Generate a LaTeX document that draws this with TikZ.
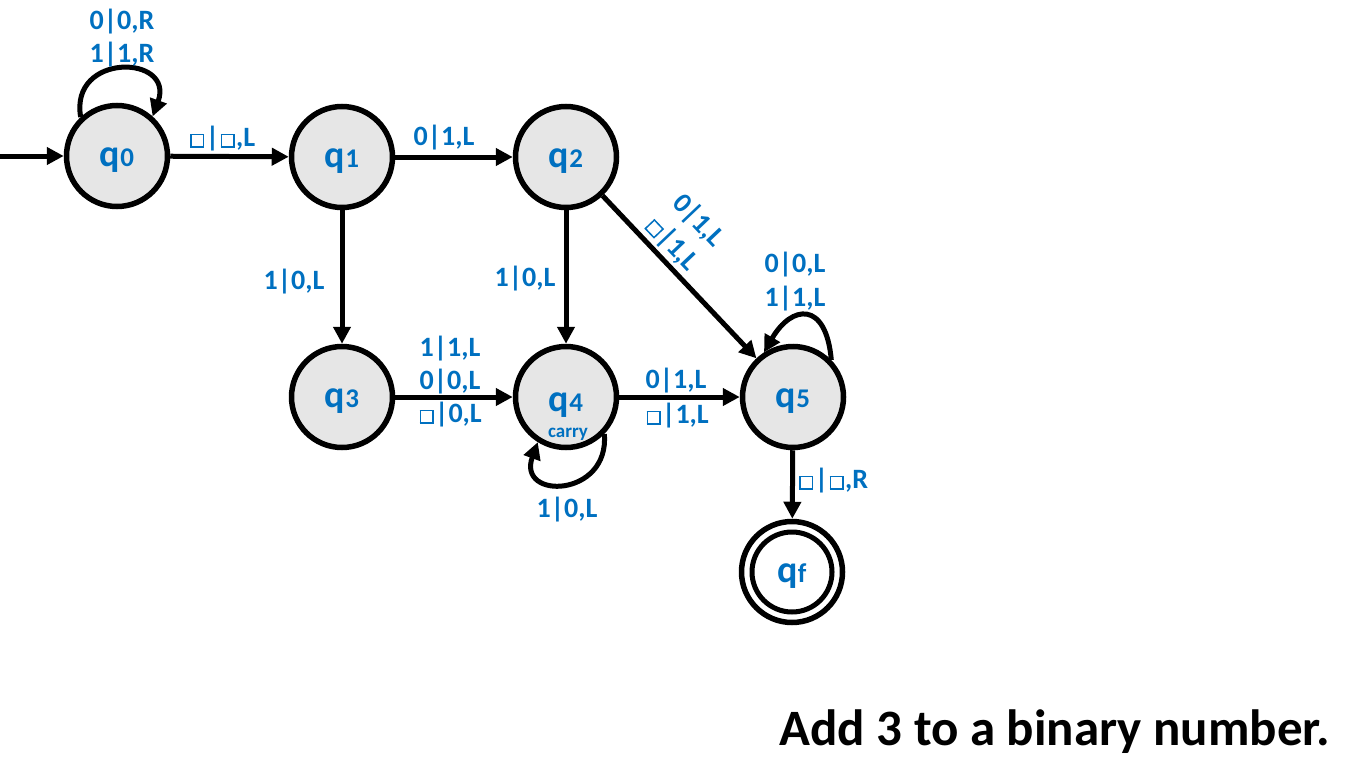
\documentclass[tikz,border=0pt]{standalone}
\usepackage{fontspec}
\setmainfont{Carlito}
\usetikzlibrary{arrows.meta}
\definecolor{lblue}{HTML}{0070C0}
\definecolor{sfill}{HTML}{E6E6E6}
\newcommand{\bx}{\begingroup\setlength{\fboxsep}{0pt}\setlength{\fboxrule}{1.5pt}\hspace{1.5pt}\fbox{\rule{0pt}{11pt}\hspace{11pt}}\hspace{1.5pt}\endgroup}
\newcommand{\sm}[1]{{\fontsize{27}{27}\selectfont #1}}
\begin{document}
\begin{tikzpicture}[x=1pt,y=1pt,
  state/.style={circle,draw=black,line width=5.5pt,fill=sfill,minimum size=101pt,inner sep=0pt},
  stxt/.style={text=lblue,font=\fontsize{38}{38}\selectfont\bfseries,inner sep=0pt,anchor=base},
  lbl/.style={text=lblue,font=\fontsize{28}{28}\selectfont\bfseries,inner sep=0pt,anchor=base},
  edge/.style={line width=5pt,-{Triangle[length=17pt,width=17pt]}}]
\useasboundingbox (0,0) rectangle (1360,-768);
% states
\node[state] (q0) at (117,-156) {};
\node[state] (q1) at (342,-157) {};
\node[state] (q2) at (566,-157) {};
\node[state] (q3) at (342,-397) {};
\node[state] (q4) at (566,-397) {};
\node[state] (q5) at (793,-397) {};
\node[state,fill=white] (qf) at (792,-572) {};
\draw[line width=5pt] (qf.center) circle[radius=40];
% state texts
\node[stxt] (t0) at ([yshift=-10pt]q0.center) {q\sm{0}};
\node[stxt] (t1) at ([yshift=-10pt]q1.center) {q\sm{1}};
\node[stxt] (t2) at ([yshift=-10pt]q2.center) {q\sm{2}};
\node[stxt] (t3) at ([yshift=-10pt]q3.center) {q\sm{3}};
\node[stxt] (t4) at ([yshift=-14pt]q4.center) {q\sm{4}};
\node[text=lblue,font=\fontsize{19}{19}\selectfont\bfseries,inner sep=0pt,anchor=base] (c4) at ([yshift=-40pt,xshift=2pt]q4.center) {carry};
\node[stxt] (t5) at ([yshift=-10pt]q5.center) {q\sm{5}};
\node[stxt] (tf) at ([yshift=-10pt]qf.center) {q\sm{f}};
% edges
\coordinate (start) at (0,-156);
\draw[edge] (start) -- (q0);
\draw[edge] (q0.133) .. controls +(100:66) and +(70:66) .. (q0.48);
\draw[edge] (q0) -- (q1);
\draw[edge] (q1) -- (q2);
\draw[edge] (q1) -- (q3);
\draw[edge] (q2) -- (q4);
\draw[edge] (q2) -- (q5);
\draw[edge] (q3) -- (q4);
\draw[edge] (q4.-44) .. controls +(-85:64) and +(-110:62) .. (q4.-122);
\draw[edge] (q4) -- (q5);
\draw[edge] (q5.44) .. controls +(95:60) and +(60:55) .. (q5.123);
\draw[edge] (q5) -- (qf);
% labels
\node[lbl] (l0a) at (122,-30) {0|0,R};
\node[lbl] (l0b) at (122,-63) {1|1,R};
\node[lbl] (l01) at (222,-146) {\bx|\bx,L};
\node[lbl] (l12) at (444,-145) {0|1,L};
\node[lbl] (l13) at (294,-289) {1|0,L};
\node[lbl] (l24) at (525,-286) {1|0,L};
\node[lbl,anchor=center,rotate=-46.5] (l25a) at (698,-221) {0|1,L};
\node[lbl,anchor=center,rotate=-46.5] (l25b) at (672,-244) {\bx|1,L};
\node[lbl] (l5a) at (795,-272) {0|0,L};
\node[lbl] (l5b) at (795,-306) {1|1,L};
\node[lbl] (l34a) at (450,-356) {1|1,L};
\node[lbl] (l34b) at (450,-389) {0|0,L};
\node[lbl] (l34c) at (450,-422) {\bx|0,L};
\node[lbl] (l4) at (567,-517) {1|0,L};
\node[lbl] (l45a) at (676,-388) {0|1,L};
\node[lbl] (l45b) at (677,-423) {\bx|1,L};
\node[lbl] (l5f) at (833,-488) {\bx|\bx,R};
% title
\node[font=\fontsize{51}{51}\selectfont\bfseries,inner sep=0pt,anchor=base east] (title) at (1330,-745) {Add 3 to a binary number.};
\end{tikzpicture}
\end{document}
